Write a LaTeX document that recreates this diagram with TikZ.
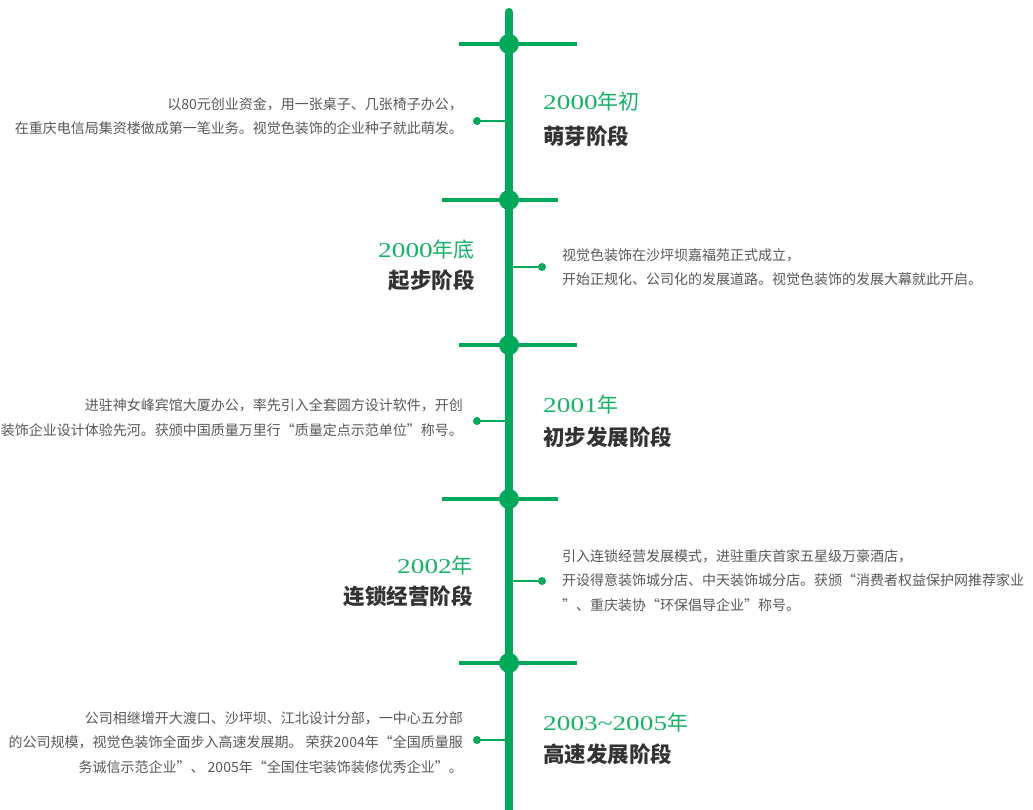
\documentclass[tikz,border=0pt]{standalone}
\usepackage{fontspec}
\setmainfont{Liberation Serif}
\newfontfamily\cjk{Noto Sans CJK SC}
\newfontfamily\yrfont{Liberation Serif}[FakeStretch=1.3]
\definecolor{tlgreen}{RGB}{0,168,89}
\definecolor{yrgreen}{RGB}{22,178,104}
\definecolor{desccol}{RGB}{88,88,88}
\definecolor{ttlcol}{RGB}{51,51,51}
\tikzset{
  spine/.style={line width=8pt, draw=tlgreen},
  bar/.style={line width=4pt, draw=tlgreen},
  hub/.style={circle, fill=tlgreen, minimum size=20pt, inner sep=0pt},
  tick/.style={line width=2.5pt, draw=tlgreen},
  pin/.style={circle, fill=tlgreen, minimum size=8pt, inner sep=0pt},
  desc/.style={font=\cjk\fontsize{14}{24.5}\selectfont, text=desccol, inner sep=0pt},
  yearlbl/.style={font=\fontsize{21}{24}\selectfont, text=yrgreen, inner sep=0pt},
  ttl/.style={font=\cjk\bfseries\fontsize{21.5}{24}\selectfont, text=ttlcol, inner sep=0pt}
}
\newcommand\yr[2]{{\yrfont #1}{\cjk #2}}
\begin{document}
\begin{tikzpicture}[x=1pt,y=-1pt]
\useasboundingbox (0,0) rectangle (1033,810);
% spine
\coordinate (top) at (509,12);
\coordinate (bot) at (509,816);
\draw[spine, line cap=round] (top) -- (bot);
% crosses
\foreach \n/\y/\l/\r in {1/44/459/577, 2/200/442/558, 3/345/459/577, 4/499/442/558, 5/663/459/577} {
  \coordinate (bl\n) at (\l,\y);
  \coordinate (br\n) at (\r,\y);
  \draw[bar] (bl\n) -- (br\n);
  \node[hub] (h\n) at (509,\y) {};
}
% connectors
\node[pin] (p1) at (477,121) {}; \coordinate (s1) at (509,121);
\node[pin] (p2) at (542,267) {}; \coordinate (s2) at (509,267);
\node[pin] (p3) at (477,421) {}; \coordinate (s3) at (509,421);
\node[pin] (p4) at (542,581) {}; \coordinate (s4) at (509,581);
\node[pin] (p5) at (477,740) {}; \coordinate (s5) at (509,740);
\foreach \n in {1,...,5} { \draw[tick] (p\n.center) -- (s\n); }

% section 1
\node[desc, align=right, anchor=base east] (d1) at (463,134) {以80元创业资金，用一张桌子、几张椅子办公，\\在重庆电信局集资楼做成第一笔业务。视觉色装饰的企业种子就此萌发。};
\node[yearlbl, anchor=base west] (y1) at (543,110) {\yr{2000}{年初}};
\node[ttl, anchor=base west] (t1) at (543,145) {萌芽阶段};

% section 2
\node[yearlbl, anchor=base east] (y2) at (475,258) {\yr{2000}{年底}};
\node[ttl, anchor=base east] (t2) at (475,289) {起步阶段};
\node[desc, align=left, anchor=base west] (d2) at (562,285) {视觉色装饰在沙坪坝嘉福苑正式成立，\\开始正规化、公司化的发展道路。视觉色装饰的发展大幕就此开启。};

% section 3
\node[desc, align=right, anchor=base east] (d3) at (463,435) {进驻神女峰宾馆大厦办公，率先引入全套圆方设计软件，开创\\装饰企业设计体验先河。获颁中国质量万里行“质量定点示范单位”称号。};
\node[yearlbl, anchor=base west] (y3) at (543,412) {\yr{2001}{年}};
\node[ttl, anchor=base west] (t3) at (543,445) {初步发展阶段};

% section 4
\node[yearlbl, anchor=base east] (y4) at (473,573) {\yr{2002}{年}};
\node[ttl, anchor=base east] (t4) at (473,604) {连锁经营阶段};
\node[desc, align=left, anchor=base west] (d4) at (562,610) {引入连锁经营发展模式，进驻重庆首家五星级万豪酒店，\\开设得意装饰城分店、中天装饰城分店。获颁“消费者权益保护网推荐家业\\”、重庆装协“环保倡导企业”称号。};

% section 5
\node[desc, align=right, anchor=base east] (d5) at (463,772) {公司相继增开大渡口、沙坪坝、江北设计分部，一中心五分部\\的公司规模，视觉色装饰全面步入高速发展期。 荣获2004年“全国质量服\\务诚信示范企业”、 2005年“全国住宅装饰装修优秀企业”。};
\node[yearlbl, anchor=base west] (y5) at (543,730) {\yr{2003\char"7E 2005}{年}};
\node[ttl, anchor=base west] (t5) at (543,762) {高速发展阶段};
\end{tikzpicture}
\end{document}
